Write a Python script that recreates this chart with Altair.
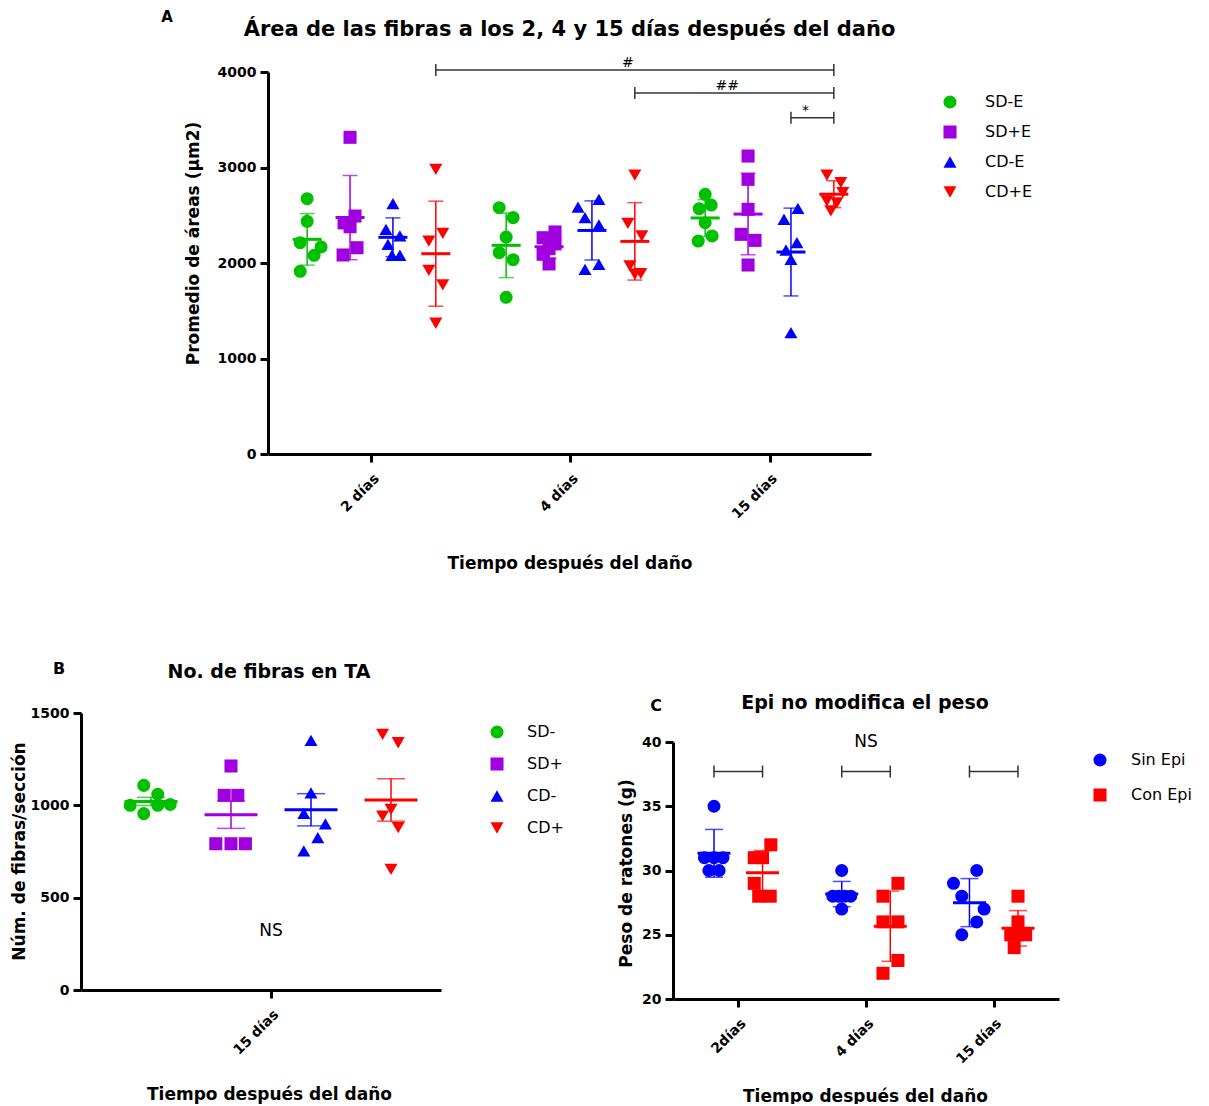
import json
import altair as alt
import pandas as pd

FONT = "DejaVu Sans"
INK = "#000000"
BRACKET = "#333333"

# ---------------- Panel A ----------------
A_title = "Área de las fibras a los 2, 4 y 15 días después del daño"
A_ytitle = "Promedio de áreas (µm2)"
A_xtitle = "Tiempo después del daño"
A_days = ["2 días", "4 días", "15 días"]
A_groups = ["SD-E", "SD+E", "CD-E", "CD+E"]
A_colors = ["#00c000", "#a000e0", "#0000ff", "#ff0000"]
A_shapes = ["circle", "square", "triangle-up", "triangle-down"]
A_yticks = [0, 1000, 2000, 3000, 4000]

A_SDmE_2 = [2673, 2437, 2213, 2168, 2081, 1913]
A_SDpE_2 = [3316, 2492, 2420, 2380, 2160, 2084]
A_CDmE_2 = [2621, 2353, 2283, 2196, 2081, 2081]
A_CDpE_2 = [2981, 2311, 2230, 1923, 1770, 1369]
A_SDmE_4 = [2579, 2475, 2272, 2108, 2035, 1641]
A_SDpE_4 = [2325, 2265, 2200, 2150, 2091, 1990]
A_CDmE_4 = [2667, 2586, 2475, 2398, 1986, 1934]
A_CDpE_4 = [2921, 2416, 2283, 1969, 1888, 1882]
A_SDmE_15 = [2719, 2607, 2569, 2422, 2283, 2230]
A_SDpE_15 = [3120, 2876, 2562, 2300, 2237, 1979]
A_CDmE_15 = [2573, 2458, 2213, 2136, 2039, 1270]
A_CDpE_15 = [2921, 2841, 2736, 2649, 2630, 2545]

# horizontal scatter (jitter) of each dot, in x-axis units
A_jit_SDmE_2 = [0, 0, -0.035, 0.07, 0.035, -0.035]
A_jit_SDpE_2 = [0, 0.025, -0.03, 0, 0.035, -0.035]
A_jit_CDmE_2 = [0, -0.035, 0.035, -0.025, -0.005, 0.035]
A_jit_CDpE_2 = [0, 0.035, -0.035, -0.035, 0.035, 0]
A_jit_SDmE_4 = [-0.035, 0.035, 0, -0.035, 0.035, 0]
A_jit_SDpE_4 = [0.03, -0.03, 0.03, 0, -0.03, 0]
A_jit_CDmE_4 = [0.035, -0.07, -0.035, 0.035, 0.035, -0.035]
A_jit_CDpE_4 = [0, -0.035, 0.035, -0.025, 0.03, 0]
A_jit_SDmE_15 = [0, 0.03, -0.03, 0, 0.035, -0.035]
A_jit_SDpE_15 = [0, 0, 0, -0.035, 0.035, 0]
A_jit_CDmE_15 = [0.035, -0.035, 0.03, -0.025, 0, 0]
A_jit_CDpE_15 = [-0.035, 0.035, 0.045, -0.035, 0.015, -0.015]

A_br_from = [("2 días", "CD+E"), ("4 días", "CD+E"), ("15 días", "CD-E")]
A_br_to = [("15 días", "CD+E"), ("15 días", "CD+E"), ("15 días", "CD+E")]
A_br_y = [4020, 3780, 3520]
A_br_text = ["#", "##", "*"]

# ---------------- Panel B ----------------
B_title = "No. de fibras en TA"
B_ytitle = "Núm. de fibras/sección"
B_xtitle = "Tiempo después del daño"
B_days = ["15 días"]
B_groups = ["SD-", "SD+", "CD-", "CD+"]
B_yticks = [0, 500, 1000, 1500]
B_SDm = [1108, 1060, 1005, 1000, 1000, 955]
B_SDp = [1213, 1054, 1054, 792, 792, 792]
B_CDm = [1352, 1068, 957, 900, 825, 753]
B_CDp = [1384, 1339, 978, 942, 879, 653]
B_jit_SDm = [-0.09, 0.085, 0.24, -0.26, 0.085, -0.09]
B_jit_SDp = [0, -0.085, 0.085, -0.19, 0, 0.18]
B_jit_CDm = [0, 0, -0.09, 0.18, 0.085, -0.09]
B_jit_CDp = [-0.105, 0.09, 0, -0.105, 0.09, 0]
B_ns_x = [0]
B_ns_y = [320]
B_ns_text = ["NS"]

# ---------------- Panel C ----------------
C_title = "Epi no modifica el peso"
C_ytitle = "Peso de ratones (g)"
C_xtitle = "Tiempo después del daño"
C_days = ["2días", "4 días", "15 días"]
C_groups = ["Sin Epi", "Con Epi"]
C_colors = ["#0000ff", "#ff0000"]
C_shapes = ["circle", "square"]
C_yticks = [20, 25, 30, 35, 40]
C_sin_2 = [35, 31, 31, 31, 30, 30]
C_con_2 = [32, 31, 31, 29, 28, 28]
C_sin_4 = [30, 28, 28, 28, 28, 27]
C_con_4 = [29, 28, 26, 26, 23, 22]
C_sin_15 = [30, 29, 28, 27, 26, 25]
C_con_15 = [28, 26, 25, 25, 25, 24]
C_jit_sin_2 = [0, -0.075, 0, 0.07, -0.04, 0.04]
C_jit_con_2 = [0.065, -0.065, 0, -0.065, -0.03, 0.06]
C_jit_sin_4 = [0, -0.07, -0.025, 0.025, 0.07, 0]
C_jit_con_4 = [0.06, -0.057, -0.057, 0.06, 0.06, -0.057]
C_jit_sin_15 = [0.057, -0.125, -0.06, 0.115, 0.057, -0.06]
C_jit_con_15 = [0, 0, -0.057, 0.06, 0, -0.03]
C_br_y = 37.7
C_ns_x = [1]
C_ns_y = [40]
C_ns_text = ["NS"]

# ---------------- helpers ----------------
A_vals = {"SD-E": [A_SDmE_2, A_SDmE_4, A_SDmE_15], "SD+E": [A_SDpE_2, A_SDpE_4, A_SDpE_15],
          "CD-E": [A_CDmE_2, A_CDmE_4, A_CDmE_15], "CD+E": [A_CDpE_2, A_CDpE_4, A_CDpE_15]}
A_jits = {"SD-E": [A_jit_SDmE_2, A_jit_SDmE_4, A_jit_SDmE_15], "SD+E": [A_jit_SDpE_2, A_jit_SDpE_4, A_jit_SDpE_15],
          "CD-E": [A_jit_CDmE_2, A_jit_CDmE_4, A_jit_CDmE_15], "CD+E": [A_jit_CDpE_2, A_jit_CDpE_4, A_jit_CDpE_15]}
B_vals = {"SD-": [B_SDm], "SD+": [B_SDp], "CD-": [B_CDm], "CD+": [B_CDp]}
B_jits = {"SD-": [B_jit_SDm], "SD+": [B_jit_SDp], "CD-": [B_jit_CDm], "CD+": [B_jit_CDp]}
C_vals = {"Sin Epi": [C_sin_2, C_sin_4, C_sin_15], "Con Epi": [C_con_2, C_con_4, C_con_15]}
C_jits = {"Sin Epi": [C_jit_sin_2, C_jit_sin_4, C_jit_sin_15], "Con Epi": [C_jit_con_2, C_jit_con_4, C_jit_con_15]}

A_SUB, B_SUB, C_SUB = 0.2155, 1.0, 0.38


def col_pos(days, groups, sub, day, group):
    return days.index(day) + (groups.index(group) - (len(groups) - 1) / 2) * sub


def panel_df(days, groups, vals, jits, sub):
    rows = []
    for di, day in enumerate(days):
        for g in groups:
            cx = col_pos(days, groups, sub, day, g)
            for v, j in zip(vals[g][di], jits[g][di]):
                rows.append({"day": day, "group": g, "value": v, "cx": cx, "x": cx + j})
    return pd.DataFrame(rows)


def yaxis(values, title, tx, ty, offset=0):
    return alt.Axis(values=values, format="d", title=title, grid=False, labelFlush=False,
                    offset=offset, domainColor=INK, domainWidth=3, tickColor=INK, tickWidth=3,
                    tickSize=8, labelFont=FONT, labelFontSize=14, labelFontWeight="bold",
                    labelColor=INK, labelPadding=4, titleFont=FONT, titleFontSize=17,
                    titleFontWeight="bold", titleColor=INK, titleAngle=270, titleX=tx,
                    titleY=ty, titleAlign="center", titleBaseline="middle")


def xaxis(values, labels, title, tx, ty):
    expr = json.dumps(labels, ensure_ascii=False) + "[datum.value]"
    return alt.Axis(values=values, labelExpr=expr, title=title, grid=False, labelFlush=False,
                    labelOverlap=False, domainColor=INK, domainWidth=3, tickColor=INK,
                    tickWidth=3, tickSize=8, labelAngle=-45, labelAlign="right",
                    labelBaseline="middle", labelPadding=14, labelOffset=5, labelFont=FONT,
                    labelFontSize=14, labelFontWeight="bold", labelColor=INK, titleFont=FONT,
                    titleFontSize=17, titleFontWeight="bold", titleColor=INK, titleAngle=0,
                    titleX=tx, titleY=ty, titleAlign="center", titleBaseline="middle")


def legend(lx, ly, rowpad, offset):
    return alt.Legend(orient="none", legendX=lx, legendY=ly, title=None, padding=0,
                      labelFont=FONT, labelFontSize=16, labelColor=INK, symbolSize=170,
                      symbolStrokeWidth=0, symbolOpacity=1, labelOffset=offset,
                      rowPadding=rowpad)


def data_layers(df, groups, colors, X, Y, cs, ss, leg, extent, cap, meanw, psize):
    errs, means = [], []
    for g, c in zip(groups, colors):
        sub = alt.Chart(df).transform_filter(alt.datum.group == g)
        errs.append(sub.mark_errorbar(extent=extent, orient="vertical", ticks=True, size=cap,
                                      thickness=1.5, color=c).encode(x=X("cx:Q"), y=Y("value:Q")))
        means.append(sub.mark_tick(orient="horizontal", size=meanw, thickness=3, opacity=1,
                                   color=c).encode(x=X("cx:Q"), y=Y("mean(value):Q")))
    pts = alt.Chart(df).mark_point(filled=True, size=psize, opacity=1, strokeWidth=0).encode(
        x=X("x:Q"), y=Y("value:Q"),
        color=alt.Color("group:N", scale=cs, legend=leg),
        shape=alt.Shape("group:N", scale=ss, legend=leg))
    return errs + [pts] + means


def label(text, px, py, size, weight="bold"):
    return alt.Chart(pd.DataFrame({"t": [text]})).mark_text(
        font=FONT, fontSize=size, fontWeight=weight, color=INK, align="center",
        baseline="middle").encode(x=alt.value(px), y=alt.value(py), text="t:N")


def anchor(px, py):
    # invisible white dot fixing the panel's outer box
    return alt.Chart(pd.DataFrame({"a": [0]})).mark_rule(color="white", strokeWidth=0.5).encode(
        x=alt.value(px), x2=alt.value(px + 0.5), y=alt.value(py), y2=alt.value(py))


def brackets(x1, x2, y, X, Y, color):
    dfl = pd.DataFrame({"x1": x1, "x2": x2, "y": y})
    dfc = pd.DataFrame({"x": list(x1) + list(x2), "y": list(y) * 2})
    line = alt.Chart(dfl).mark_rule(color=color, strokeWidth=1.5).encode(
        x=X("x1:Q"), x2=alt.X2("x2"), y=Y("y:Q"))
    caps = alt.Chart(dfc).mark_rule(color=color, strokeWidth=1.5, yOffset=-6, y2Offset=6).encode(
        x=X("x:Q"), y=Y("y:Q"), y2=alt.Y2("y"))
    return [line, caps]


def makers(xs, ys, xax, yax):
    return (lambda f: alt.X(f, scale=xs, axis=xax)), (lambda f: alt.Y(f, scale=ys, axis=yax))


# ---------------- Panel A chart (origin at canvas x=80, y=71) ----------------
dfA = panel_df(A_days, A_groups, A_vals, A_jits, A_SUB)
xsA = alt.Scale(domain=[-0.52, 2.51], range=[187, 790], nice=False, zero=False)
ysA = alt.Scale(domain=[0, 4000], nice=False, zero=False)
csA = alt.Scale(domain=A_groups, range=A_colors)
ssA = alt.Scale(domain=A_groups, range=A_shapes)
XA, YA = makers(xsA, ysA, xaxis([0, 1, 2], A_days, A_xtitle, 488.5, 109),
                yaxis(A_yticks, A_ytitle, -75, 171, offset=-187))
layersA = data_layers(dfA, A_groups, A_colors, XA, YA, csA, ssA, legend(861, 22, 14, 27),
                      "stdev", 15, 29, 170)
bx1 = [col_pos(A_days, A_groups, A_SUB, d, g) for d, g in A_br_from]
bx2 = [col_pos(A_days, A_groups, A_SUB, d, g) for d, g in A_br_to]
layersA += brackets(bx1, bx2, A_br_y, XA, YA, BRACKET)
brT = pd.DataFrame({"x": [(a + b) / 2 for a, b in zip(bx1, bx2)], "y": A_br_y, "t": A_br_text})
layersA.append(alt.Chart(brT).mark_text(font=FONT, fontSize=14, color=INK, dy=-3, dx=-7,
                                        baseline="alphabetic").encode(
    x=XA("x:Q"), y=YA("y:Q"), text="t:N"))
layersA += [label(A_title, 488.5, -42, 21), label("A", 86, -55, 15),
            anchor(-80, -71), anchor(1124, 527)]
chartA = alt.layer(*layersA).properties(width=790, height=382)

# ---------------- Panel B chart (origin at canvas x=80, y=712) ----------------
dfB = panel_df(B_days, B_groups, B_vals, B_jits, B_SUB)
xsB = alt.Scale(domain=[-2.375, 2.125], nice=False, zero=False)
ysB = alt.Scale(domain=[0, 1500], nice=False, zero=False)
csB = alt.Scale(domain=B_groups, range=A_colors)
ssB = alt.Scale(domain=B_groups, range=A_shapes)
XB, YB = makers(xsB, ysB, xaxis([0], B_days, B_xtitle, 188, 104),
                yaxis(B_yticks, B_ytitle, -62, 138))
layersB = data_layers(dfB, B_groups, A_colors, XB, YB, csB, ssB, legend(408, 11, 16, 22),
                      "stderr", 28, 53, 170)
nsB = pd.DataFrame({"x": B_ns_x, "y": B_ns_y, "t": B_ns_text})
layersB.append(alt.Chart(nsB).mark_text(font=FONT, fontSize=17, color=INK).encode(
    x=XB("x:Q"), y=YB("y:Q"), text="t:N"))
layersB += [label(B_title, 188, -41, 19), label("B", -22, -44, 16),
            anchor(-80, -112), anchor(520, 388)]
chartB = alt.layer(*layersB).properties(width=360, height=277)

# ---------------- Panel C chart (origin at canvas x=672, y=712) ----------------
dfC = panel_df(C_days, C_groups, C_vals, C_jits, C_SUB)
xsC = alt.Scale(domain=[-0.511, 2.511], nice=False, zero=False)
ysC = alt.Scale(domain=[20, 40], range=[286, 29], nice=False, zero=False)
csC = alt.Scale(domain=C_groups, range=C_colors)
ssC = alt.Scale(domain=C_groups, range=C_shapes)
XC, YC = makers(xsC, ysC, xaxis([0, 1, 2], C_days, C_xtitle, 192, 97),
                yaxis(C_yticks, C_ytitle, -47, 160))
layersC = data_layers(dfC, C_groups, C_colors, XC, YC, csC, ssC, legend(419, 39, 19, 23),
                      "stdev", 18, 33, 170)
cx1 = [col_pos(C_days, C_groups, C_SUB, d, C_groups[0]) for d in C_days]
cx2 = [col_pos(C_days, C_groups, C_SUB, d, C_groups[1]) for d in C_days]
layersC += brackets(cx1, cx2, [C_br_y] * len(C_days), XC, YC, BRACKET)
nsC = pd.DataFrame({"x": C_ns_x, "y": C_ns_y, "t": C_ns_text})
layersC.append(alt.Chart(nsC).mark_text(font=FONT, fontSize=17, color=INK).encode(
    x=XC("x:Q"), y=YC("y:Q"), text="t:N"))
layersC += [label(C_title, 192, -10, 19), label("C", -17, -7, 16),
            anchor(-70, -112), anchor(530, 388)]
chartC = alt.layer(*layersC).properties(width=386, height=286)

bottom = alt.hconcat(chartB, chartC, spacing=0).resolve_scale(
    color="independent", shape="independent").resolve_legend(
    color="independent", shape="independent")
chart = alt.vconcat(chartA, bottom, spacing=0).resolve_scale(
    color="independent", shape="independent").resolve_legend(
    color="independent", shape="independent").properties(
    padding=0, background="white").configure_view(strokeWidth=0)

chart.save("out.html", embed_options={"renderer": "svg", "actions": False})
